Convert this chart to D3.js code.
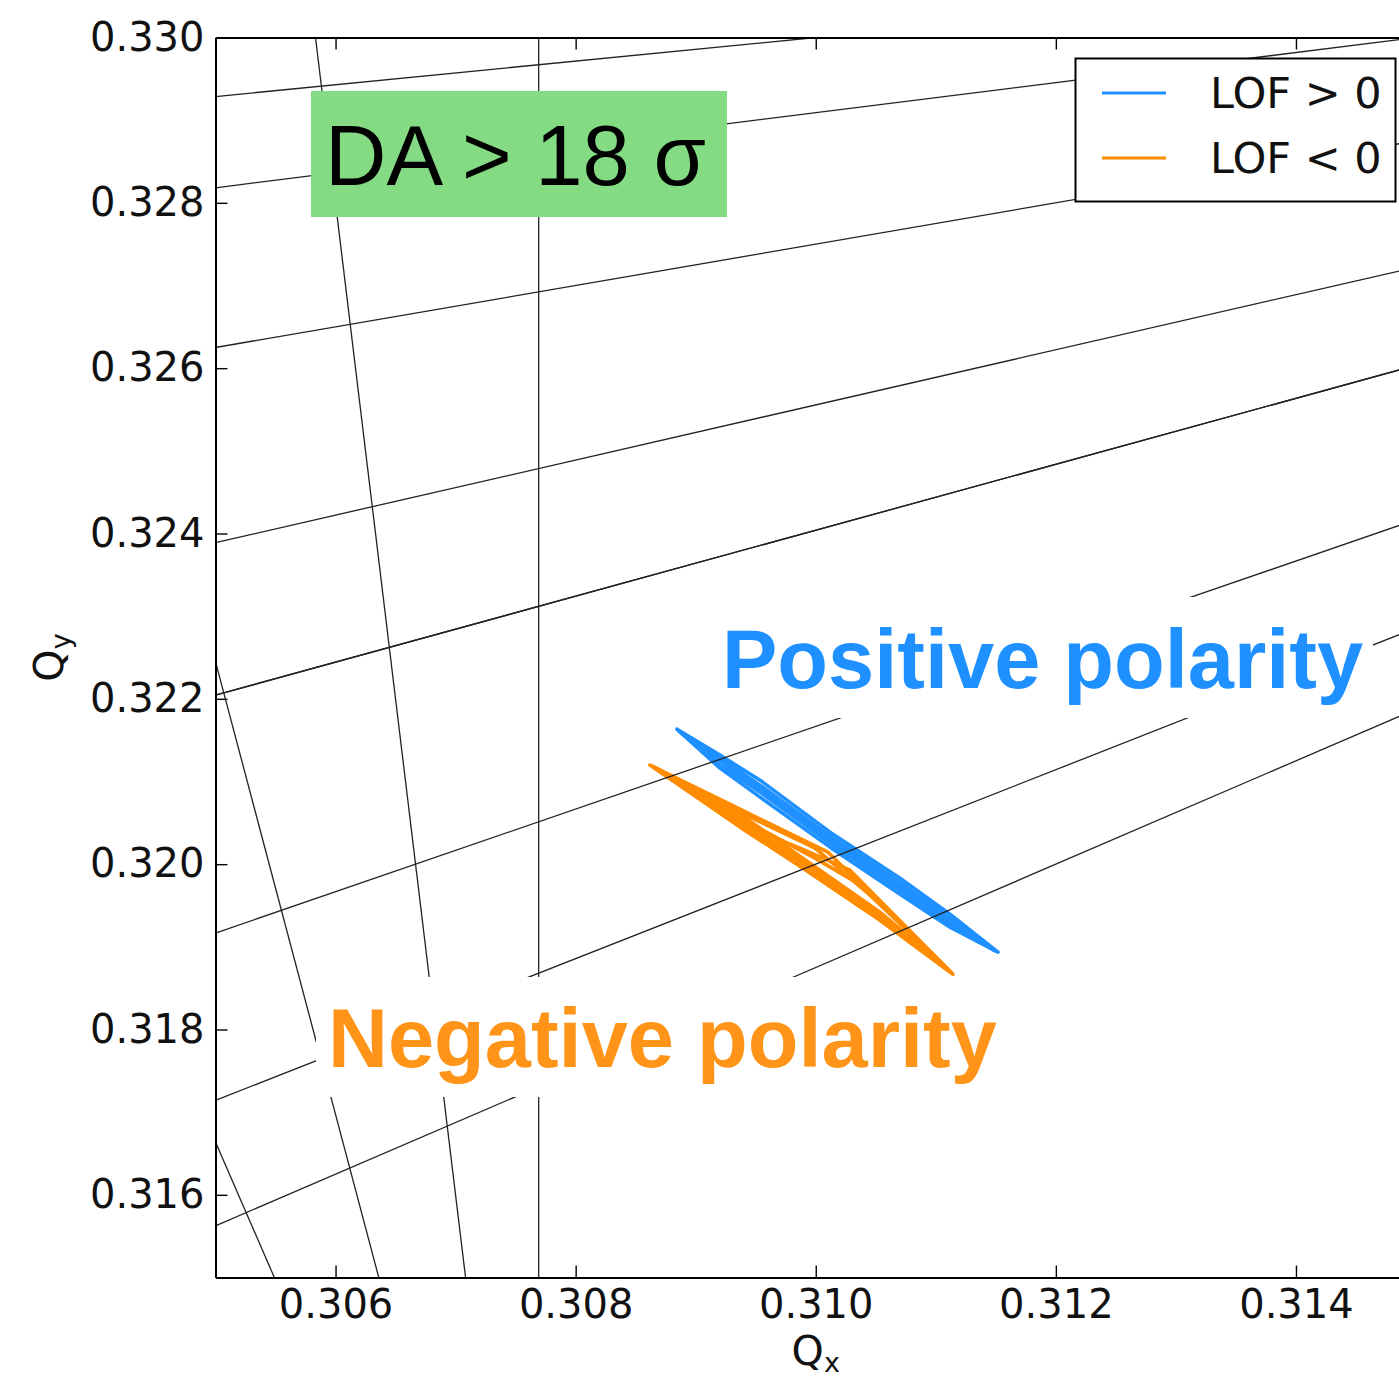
<!DOCTYPE html>
<html>
<head>
<meta charset="utf-8">
<script src="https://cdn.jsdelivr.net/npm/d3@7"></script>
<style>
  html, body { margin: 0; padding: 0; background: #fff; }
  svg { display: block; }
</style>
</head>
<body>
<svg id="chart" width="1399" height="1379"></svg>
<script>
// ---- data -------------------------------------------------------------
const xDomain = [0.305, 0.315];
const yDomain = [0.315, 0.330];
const xTicks = [0.306, 0.308, 0.310, 0.312, 0.314];
const yTicks = [0.316, 0.318, 0.320, 0.322, 0.324, 0.326, 0.328, 0.330];

// Resonance lines in the tune plane, as [Qx1, Qy1, Qx2, Qy2]
const resonanceLines = [
  [0.305, 0.329286, 0.310, 0.330],        // -Qx + 7Qy = 2
  [0.305, 0.328182, 0.315, 0.330],        // -2Qx + 11Qy = 3
  [0.305, 0.326250, 0.315, 0.328750],     // -Qx + 4Qy = 1
  [0.305, 0.323889, 0.315, 0.327222],     // -3Qx + 9Qy = 2
  [0.305, 0.322045, 0.315, 0.326034],     // -2Qx + 5Qy = 1
  [0.305, 0.322045, 0.315, 0.326034],     // -4Qx + 10Qy = 2 (coincides)
  [0.305, 0.319167, 0.315, 0.324167],     // -3Qx + 6Qy = 1
  [0.305, 0.317143, 0.315, 0.322857],     // -4Qx + 7Qy = 1
  [0.305, 0.315625, 0.315, 0.321875],     // -5Qx + 8Qy = 1
  [0.305833, 0.330, 0.307083, 0.315],     // 12Qx + Qy = 4
  [0.307692, 0.330, 0.307692, 0.315],     // 13Qx = 4
  [0.305, 0.322450, 0.306360, 0.315],     // 11Qx + 2Qy = 4
  [0.305, 0.316640, 0.305490, 0.315]      // 10Qx + 3Qy = 4
];

// Tune footprint for LOF > 0, as closed loops of [Qx, Qy]
const positiveLoops = [
  [[0.308844,0.321633],[0.309202,0.321319],[0.309536,0.321016],[0.310119,0.320387],[0.310702,0.319831],[0.311118,0.319395],[0.311518,0.318935],[0.311118,0.319238],[0.310702,0.319637],[0.310119,0.320206],[0.309536,0.320811],[0.309202,0.321162],[0.308844,0.321633]],
  [[0.308861,0.321609],[0.309202,0.321283],[0.309536,0.320956],[0.310119,0.320339],[0.310702,0.319782],[0.311118,0.319347],[0.311501,0.318947],[0.311118,0.319274],[0.310702,0.319685],[0.310119,0.320254],[0.309536,0.320871],[0.309202,0.321198],[0.308861,0.321609]],
  [[0.308878,0.321597],[0.309536,0.320920],[0.310119,0.320303],[0.310702,0.319734],[0.311485,0.318960],[0.310702,0.319710],[0.310119,0.320278],[0.309536,0.320895],[0.308878,0.321597]]
];

// Tune footprint for LOF < 0
const negativeLoops = [
  [[0.308619,0.321198],[0.309369,0.320665],[0.310102,0.320145],[0.310535,0.319528],[0.311143,0.318669],[0.310535,0.319322],[0.309869,0.319976],[0.309369,0.320448],[0.308619,0.321198]],
  [[0.308636,0.321186],[0.309369,0.320629],[0.309994,0.320194],[0.310452,0.319625],[0.311127,0.318693],[0.310452,0.319419],[0.309869,0.320024],[0.309369,0.320484],[0.308636,0.321186]],
  [[0.308653,0.321174],[0.309369,0.320484],[0.309869,0.320194],[0.310285,0.319927],[0.311110,0.318718],[0.310535,0.319419],[0.310035,0.319927],[0.309369,0.320605],[0.308653,0.321174]],
  [[0.308669,0.321162],[0.309369,0.320557],[0.309994,0.320073],[0.310419,0.319710],[0.311093,0.318742],[0.310419,0.319504],[0.309786,0.320145],[0.308669,0.321162]]
];

const legendItems = [
  { label: "LOF > 0", color: "#1E90FF" },
  { label: "LOF < 0", color: "#FF8C00" }
];

// ---- layout -----------------------------------------------------------
const plot = { left: 215.5, right: 1416, top: 37.5, bottom: 1277.5 };
const tickFont = "'DejaVu Sans', sans-serif";
const annoFont = "'Liberation Sans', Arial, sans-serif";

const svg = d3.select("#chart");
const x = d3.scaleLinear().domain(xDomain).range([plot.left, plot.right]);
const y = d3.scaleLinear().domain(yDomain).range([plot.bottom, plot.top]);

svg.append("defs").append("clipPath").attr("id", "plot-clip")
  .append("rect")
  .attr("x", plot.left).attr("y", plot.top)
  .attr("width", plot.right - plot.left).attr("height", plot.bottom - plot.top);

const inner = svg.append("g").attr("clip-path", "url(#plot-clip)");

// footprints
const loopLine = d3.line().x(d => x(d[0])).y(d => y(d[1]));
function drawLoops(loops, color) {
  inner.append("g").selectAll("path").data(loops).join("path")
    .attr("d", loopLine)
    .attr("fill", "none").attr("stroke", color)
    .attr("stroke-width", 3.6).attr("stroke-linejoin", "round").attr("stroke-linecap", "round");
}
drawLoops(positiveLoops, legendItems[0].color);
drawLoops(negativeLoops, legendItems[1].color);

// resonance lines
inner.append("g").selectAll("line").data(resonanceLines).join("line")
  .attr("x1", d => x(d[0])).attr("y1", d => y(d[1]))
  .attr("x2", d => x(d[2])).attr("y2", d => y(d[3]))
  .attr("stroke", "#222").attr("stroke-width", 1.3);

// axes (ticks inside, as in the classic style)
function styleAxis(g) {
  g.select(".domain").attr("stroke", "#000").attr("stroke-width", 2);
  g.selectAll(".tick line").attr("stroke", "#000").attr("stroke-width", 1.4);
  g.selectAll(".tick text").attr("fill", "#111")
    .style("font-family", tickFont).style("font-size", "40px");
}
svg.append("g").attr("transform", `translate(0,${plot.bottom})`)
  .call(d3.axisBottom(x).tickValues(xTicks).tickFormat(d3.format(".3f"))
    .tickSizeInner(-12).tickSizeOuter(0).tickPadding(12.5))
  .call(styleAxis);
svg.append("g").attr("transform", `translate(0,${plot.top})`)
  .call(d3.axisTop(x).tickValues(xTicks).tickFormat("")
    .tickSizeInner(-12).tickSizeOuter(0))
  .call(styleAxis);
svg.append("g").attr("transform", `translate(${plot.left},0)`)
  .call(d3.axisLeft(y).tickValues(yTicks).tickFormat(d3.format(".3f"))
    .tickSizeInner(-12).tickSizeOuter(0).tickPadding(11))
  .call(styleAxis);
svg.append("g").attr("transform", `translate(${plot.right},0)`)
  .call(d3.axisRight(y).tickValues(yTicks).tickFormat("")
    .tickSizeInner(-12).tickSizeOuter(0))
  .call(styleAxis);

// axis titles
const xTitle = svg.append("text")
  .attr("x", x(0.310)).attr("y", 1365).attr("text-anchor", "middle")
  .style("font-family", tickFont).style("font-size", "41px").attr("fill", "#111");
xTitle.append("tspan").text("Q");
xTitle.append("tspan").attr("dy", 7).style("font-size", "27px").text("x");

const yTitle = svg.append("text")
  .attr("transform", `translate(63,${(plot.top + plot.bottom) / 2}) rotate(-90)`)
  .attr("text-anchor", "middle")
  .style("font-family", tickFont).style("font-size", "41px").attr("fill", "#111");
yTitle.append("tspan").text("Q");
yTitle.append("tspan").attr("dy", 7).style("font-size", "27px").text("y");

// dynamic-aperture badge
svg.append("rect").attr("x", 311).attr("y", 91).attr("width", 416).attr("height", 126)
  .attr("fill", "#84DB84");
svg.append("text").attr("x", 325).attr("y", 185)
  .style("font-family", annoFont).style("font-size", "85px").attr("fill", "#000")
  .text("DA > 18 σ");

// polarity annotations on white boxes
svg.append("rect").attr("x", 712).attr("y", 597).attr("width", 661).attr("height", 121).attr("fill", "#fff");
svg.append("text").attr("x", 722).attr("y", 688)
  .style("font-family", annoFont).style("font-size", "83px").style("font-weight", "bold")
  .attr("fill", "#1E90FF").text("Positive polarity");

svg.append("rect").attr("x", 316).attr("y", 977).attr("width", 694).attr("height", 120).attr("fill", "#fff");
svg.append("text").attr("x", 328).attr("y", 1067)
  .style("font-family", annoFont).style("font-size", "83px").style("font-weight", "bold")
  .attr("fill", "#FF9419").text("Negative polarity");

// legend
const lg = svg.append("g");
lg.append("rect").attr("x", 1075.5).attr("y", 58.5).attr("width", 320).attr("height", 143)
  .attr("fill", "#fff").attr("stroke", "#000").attr("stroke-width", 2);
const rows = lg.selectAll("g.item").data(legendItems).join("g").attr("class", "item")
  .attr("transform", (d, i) => `translate(0,${93 + i * 65})`);
rows.append("line").attr("x1", 1102).attr("x2", 1166).attr("y1", 0).attr("y2", 0)
  .attr("stroke", d => d.color).attr("stroke-width", 3);
rows.append("text").attr("x", 1210).attr("y", 15)
  .style("font-family", tickFont).style("font-size", "43px").attr("fill", "#111")
  .text(d => d.label);
</script>
</body>
</html>
